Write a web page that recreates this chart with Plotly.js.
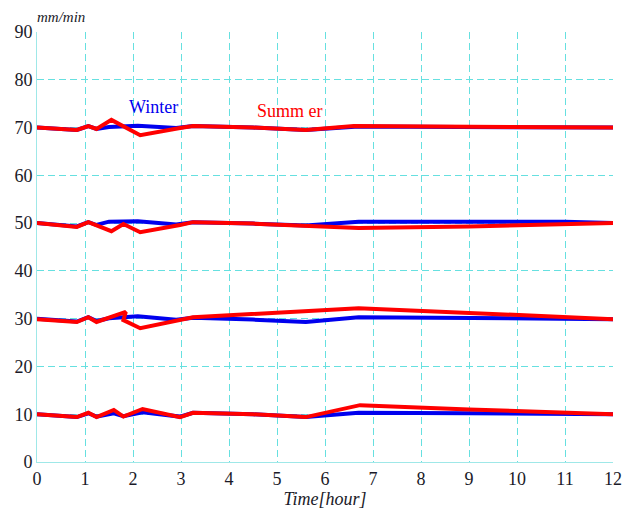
<!DOCTYPE html>
<html><head><meta charset="utf-8">
<script src="https://cdn.plot.ly/plotly-3.0.1.min.js"></script>
<style>html,body{margin:0;padding:0;background:#fff}</style>
</head><body><div id="chart" style="width:629px;height:509px"></div>
<script>
// Winter (blue) series
const w70x = [0, 0.83, 1.07, 1.24, 1.5, 2.1, 2.9, 3.25, 4.5, 5.6, 6.7, 9, 11, 12];
const w70y = [70, 69.5, 70.3, 69.7, 70.1, 70.4, 69.9, 70.3, 70, 69.5, 70.2, 70.1, 70.1, 70];
const w50x = [0, 0.83, 1.07, 1.24, 1.5, 2.1, 2.9, 3.25, 4.5, 5.6, 6.7, 9, 11, 12];
const w50y = [50, 49.3, 50.2, 49.6, 50.3, 50.4, 49.7, 50.2, 49.9, 49.5, 50.3, 50.3, 50.3, 50];
const w30x = [0, 0.83, 1.07, 1.24, 1.5, 2.1, 2.9, 3.25, 4.5, 5.6, 6.7, 9, 11, 12];
const w30y = [30, 29.4, 30.3, 29.5, 30.1, 30.5, 29.8, 30.2, 29.8, 29.3, 30.3, 30.2, 30.1, 29.9];
const w10x = [0, 0.83, 1.07, 1.24, 1.6, 1.8, 2.2, 2.98, 3.25, 4.5, 5.6, 6.7, 9, 11, 12];
const w10y = [10, 9.4, 10.2, 9.5, 10.2, 9.6, 10.4, 9.5, 10.3, 10, 9.4, 10.3, 10.2, 10.1, 10];
// Summer (red) series
const s70x = [0, 0.83, 1.07, 1.24, 1.55, 2.15, 2.98, 3.25, 4.5, 5.6, 6.6, 9, 12];
const s70y = [70, 69.5, 70.3, 69.7, 71.6, 68.4, 69.9, 70.3, 70, 69.5, 70.3, 70.2, 70];
const s50x = [0, 0.83, 1.07, 1.55, 1.8, 2.15, 2.98, 3.25, 4.5, 5.6, 6.7, 9, 12];
const s50y = [50, 49.2, 50.2, 48.3, 49.8, 48.1, 49.6, 50.2, 49.9, 49.5, 49.0, 49.3, 50];
const s30x = [0, 0.83, 1.07, 1.24, 1.85, 1.8, 2.15, 2.98, 3.25, 6.7, 9, 12];
const s30y = [29.9, 29.3, 30.3, 29.3, 31.4, 29.7, 28.0, 29.7, 30.3, 32.2, 31.2, 29.9];
const s10x = [0, 0.83, 1.07, 1.24, 1.6, 1.8, 2.2, 2.98, 3.25, 4.5, 5.6, 6.73, 9, 12];
const s10y = [10, 9.4, 10.3, 9.4, 10.9, 9.5, 11.1, 9.4, 10.3, 10, 9.4, 11.9, 11.0, 10];

const xTicks = [0,1,2,3,4,5,6,7,8,9,10,11,12];
const yTicks = [0,10,20,30,40,50,60,70,80,90];

const blue = '#0000ee', red = '#ff0000';
function tr(x, y, c) {
  return {x: x, y: y, type: 'scatter', mode: 'lines', line: {color: c, width: 4}, hoverinfo: 'skip'};
}
const data = [
  tr(w70x, w70y, blue), tr(w50x, w50y, blue), tr(w30x, w30y, blue), tr(w10x, w10y, blue),
  tr(s70x, s70y, red), tr(s50x, s50y, red), tr(s30x, s30y, red), tr(s10x, s10y, red)
];
const fontFam = 'Liberation Serif, Times New Roman, serif';
const txt = '#1a1a28';
const grid = '#66e0e0';
const layout = {
  width: 629, height: 509,
  margin: {l: 37, r: 16, t: 32, b: 47},
  showlegend: false,
  paper_bgcolor: '#fff', plot_bgcolor: '#fff',
  font: {family: fontFam, color: txt, size: 18},
  xaxis: {
    range: [0, 12], tickvals: xTicks, ticktext: xTicks.map(String),
    showgrid: true, gridcolor: grid, griddash: '7px,4px', gridwidth: 1,
    zeroline: false, showline: true, linecolor: '#9fe8e8', linewidth: 1, mirror: false,
    ticks: '', tickfont: {family: fontFam, size: 18, color: txt},
    title: {text: 'Time[hour]', font: {family: fontFam, size: 18, color: txt, style: 'italic'}, standoff: 2}
  },
  yaxis: {
    range: [0, 90], tickvals: yTicks, ticktext: yTicks.map(String),
    showgrid: true, gridcolor: grid, griddash: '7px,4px', gridwidth: 1,
    zeroline: false, showline: true, linecolor: '#9fe8e8', linewidth: 1,
    ticks: '', tickfont: {family: fontFam, size: 18, color: txt}
  },
  annotations: [
    {text: 'mm/min', xref: 'paper', yref: 'paper', x: -0.003, y: 1.0, xanchor: 'left', yanchor: 'bottom', yshift: 5, showarrow: false,
     font: {family: fontFam, size: 15, color: txt, style: 'italic'}},
    {text: 'Winter', xref: 'x', yref: 'y', x: 2.43, y: 74.3, showarrow: false, font: {family: fontFam, size: 18, color: blue}},
    {text: 'Summ er', xref: 'x', yref: 'y', x: 5.27, y: 73.5, showarrow: false, font: {family: fontFam, size: 18, color: red}}
  ]
};
Plotly.newPlot('chart', data, layout, {displayModeBar: false, staticPlot: true});
</script></body></html>
